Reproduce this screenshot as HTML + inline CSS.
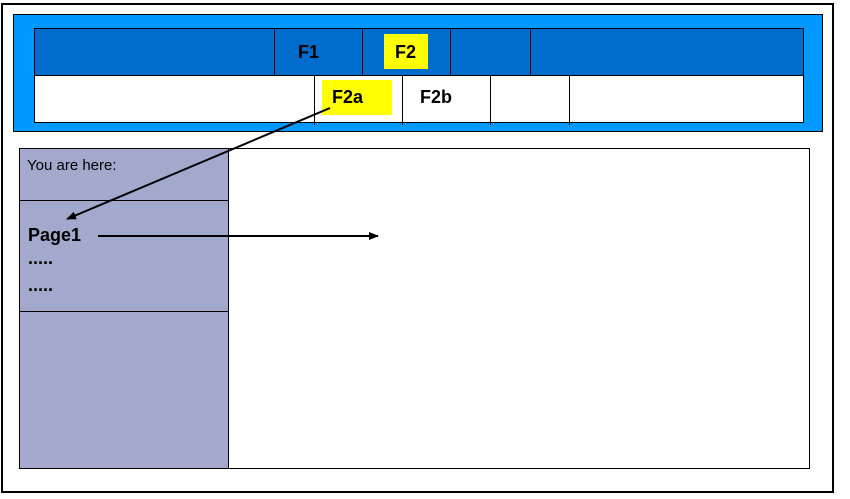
<!DOCTYPE html>
<html><head><style>
body{margin:0;width:850px;height:499px;background:#fff;position:relative;overflow:hidden;font-family:"Liberation Sans",Arial,sans-serif}
div{position:absolute;box-sizing:border-box}
.t{font-weight:bold;font-size:18px;color:#000}
</style></head><body>
<div style="left:1px;top:3px;width:833px;height:490px;border:2px solid #000"></div>
<div style="left:13px;top:14px;width:810px;height:118px;background:#0099ff;border:1px solid #000"></div>
<div style="left:34px;top:28px;width:770px;height:48px;background:#006dcc;border:1px solid #000"></div>
<div style="left:34px;top:76px;width:770px;height:47px;background:#fff;border:1px solid #000;border-top:none"></div>
<div style="left:274px;top:28px;width:1px;height:48px;background:#000"></div>
<div style="left:362px;top:28px;width:1px;height:48px;background:#000"></div>
<div style="left:450px;top:28px;width:1px;height:48px;background:#000"></div>
<div style="left:530px;top:28px;width:1px;height:48px;background:#000"></div>
<div style="left:314px;top:76px;width:1px;height:49px;background:#000"></div>
<div style="left:402px;top:76px;width:1px;height:49px;background:#000"></div>
<div style="left:490px;top:76px;width:1px;height:49px;background:#000"></div>
<div style="left:569px;top:76px;width:1px;height:49px;background:#000"></div>
<div style="left:384px;top:34px;width:44px;height:35px;background:#ffff00"></div>
<div style="left:322px;top:80px;width:70px;height:35px;background:#ffff00"></div>
<div class="t" style="left:298px;top:42px">F1</div>
<div class="t" style="left:395px;top:42px">F2</div>
<div class="t" style="left:332px;top:87px">F2a</div>
<div class="t" style="left:420px;top:87px">F2b</div>
<div style="left:19px;top:148px;width:210px;height:321px;background:#a3a9cd;border:1px solid #000"></div>
<div style="left:228px;top:148px;width:582px;height:321px;background:#fff;border:1px solid #000"></div>
<div style="left:19px;top:200px;width:210px;height:1px;background:#000"></div>
<div style="left:19px;top:311px;width:210px;height:1px;background:#000"></div>
<div style="left:27px;top:157px;font-size:15px">You are here:</div>
<div class="t" style="left:28px;top:225px">Page1</div>
<div class="t" style="left:28px;top:248px">.....</div>
<div class="t" style="left:28px;top:275px">.....</div>
<svg width="850" height="499" style="position:absolute;left:0;top:0">
<defs><marker id="a" markerWidth="10" markerHeight="8" refX="9" refY="4" orient="auto" markerUnits="userSpaceOnUse"><path d="M0,0L10,4L0,8z" fill="#000"/></marker></defs>
<line x1="330" y1="108" x2="67" y2="219" stroke="#000" stroke-width="2" marker-end="url(#a)"/>
<line x1="98" y1="236" x2="378" y2="236" stroke="#000" stroke-width="2" marker-end="url(#a)"/>
</svg>
</body></html>
